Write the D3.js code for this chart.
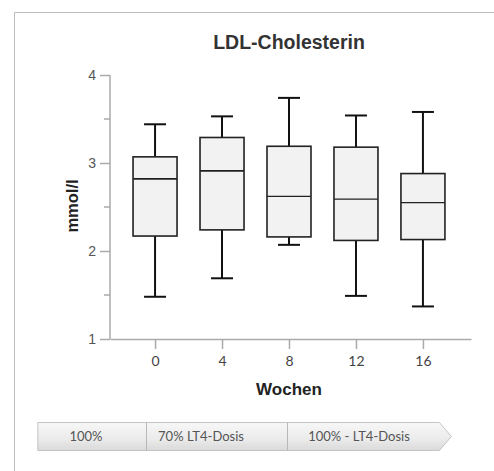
<!DOCTYPE html>
<html>
<head>
<meta charset="utf-8">
<script src="https://cdn.jsdelivr.net/npm/d3@7"></script>
<style>
  body { margin: 0; background: #fff; }
  svg { display: block; }
</style>
</head>
<body>
<svg id="chart" width="494" height="471"></svg>
<script>
// weeks and box stats (mmol/l)
var weeks = [0, 4, 8, 12, 16];
var whiskLow  = [1.48, 1.69, 2.07, 1.49, 1.37];
var q1        = [2.17, 2.24, 2.16, 2.12, 2.13];
var median    = [2.82, 2.91, 2.62, 2.59, 2.55];
var q3        = [3.07, 3.29, 3.19, 3.18, 2.88];
var whiskHigh = [3.44, 3.53, 3.74, 3.54, 3.58];

var yTicks = [1, 2, 3, 4];
var yMinor = [1.5, 2.5, 3.5];

// dosing phases under the chart (in weeks)
var phaseLabels = ["100%", "70% LT4-Dosis", "100% - LT4-Dosis"];
var phaseStart  = [-7.0, -0.55, 7.9];
var phaseEnd    = [-0.55, 7.9, 17.7];

var svg = d3.select('#chart');

var xScale = d3.scaleLinear().domain([-2.69, 18.87]).range([110, 471]);
var yScale = d3.scaleLinear().domain([1, 4]).range([339, 75]);

var boxW = 44, capW = 22;
var axisCol = '#aaa';

// frame
svg.append('path')
  .attr('d', 'M14.5,471 V12.5 H494')
  .attr('fill', 'none').attr('stroke', '#bcbcbc').attr('stroke-width', 1);

svg.append('text')
  .attr('x', 289).attr('y', 49)
  .attr('text-anchor', 'middle')
  .attr('font-family', 'Liberation Sans, Arial, sans-serif')
  .attr('font-weight', 'bold').attr('font-size', '19.5px')
  .attr('fill', '#333')
  .text('LDL-Cholesterin');

// y axis
var yAxis = d3.axisLeft(yScale).tickValues(yTicks).tickSize(10).tickPadding(4).tickFormat(d3.format('d'));
var gy = svg.append('g').attr('transform', 'translate(110,0)').call(yAxis);
gy.select('.domain').attr('stroke', axisCol).attr('stroke-width', 1.5).attr('d', 'M0,' + yScale(4) + 'V' + yScale(1));
gy.selectAll('.tick line').attr('stroke', axisCol).attr('stroke-width', 1.5);
gy.selectAll('.tick text').attr('fill', '#555').attr('font-size', '14px')
  .attr('font-family', 'Liberation Sans, Arial, sans-serif');

svg.append('g').selectAll('line')
  .data(yMinor).enter().append('line')
  .attr('x1', 104).attr('x2', 110)
  .attr('y1', d => yScale(d)).attr('y2', d => yScale(d))
  .attr('stroke', axisCol).attr('stroke-width', 1.5);

// x axis
var xAxis = d3.axisBottom(xScale).tickValues(weeks).tickSize(10).tickPadding(7).tickSizeOuter(0);
var gx = svg.append('g').attr('transform', 'translate(0,' + yScale(1) + ')').call(xAxis);
gx.select('.domain').attr('stroke', axisCol).attr('stroke-width', 1.5);
gx.selectAll('.tick line').attr('stroke', axisCol).attr('stroke-width', 1.5);
gx.selectAll('.tick text').attr('fill', '#444').attr('font-size', '14px')
  .attr('font-family', 'Lato, Carlito, sans-serif');

svg.append('text')
  .attr('x', 289).attr('y', 395)
  .attr('text-anchor', 'middle')
  .attr('font-family', 'Liberation Sans, Arial, sans-serif')
  .attr('font-weight', 'bold').attr('font-size', '17px')
  .attr('fill', '#222')
  .text('Wochen');

svg.append('text')
  .attr('transform', 'translate(78,206) rotate(-90)')
  .attr('text-anchor', 'middle')
  .attr('font-family', 'Liberation Sans, Arial, sans-serif')
  .attr('font-weight', 'bold').attr('font-size', '16.5px')
  .attr('fill', '#222')
  .text('mmol/l');

// boxes
var boxes = svg.append('g').selectAll('g')
  .data(weeks).enter().append('g');

boxes.append('line')
  .attr('x1', d => xScale(d)).attr('x2', d => xScale(d))
  .attr('y1', (d, i) => yScale(whiskHigh[i])).attr('y2', (d, i) => yScale(q3[i]))
  .attr('stroke', '#111').attr('stroke-width', 2);
boxes.append('line')
  .attr('x1', d => xScale(d)).attr('x2', d => xScale(d))
  .attr('y1', (d, i) => yScale(q1[i])).attr('y2', (d, i) => yScale(whiskLow[i]))
  .attr('stroke', '#111').attr('stroke-width', 2);
boxes.append('line')
  .attr('x1', d => xScale(d) - capW / 2).attr('x2', d => xScale(d) + capW / 2)
  .attr('y1', (d, i) => yScale(whiskHigh[i])).attr('y2', (d, i) => yScale(whiskHigh[i]))
  .attr('stroke', '#111').attr('stroke-width', 2);
boxes.append('line')
  .attr('x1', d => xScale(d) - capW / 2).attr('x2', d => xScale(d) + capW / 2)
  .attr('y1', (d, i) => yScale(whiskLow[i])).attr('y2', (d, i) => yScale(whiskLow[i]))
  .attr('stroke', '#111').attr('stroke-width', 2);
boxes.append('rect')
  .attr('x', d => xScale(d) - boxW / 2)
  .attr('y', (d, i) => yScale(q3[i]))
  .attr('width', boxW)
  .attr('height', (d, i) => yScale(q1[i]) - yScale(q3[i]))
  .attr('fill', '#f2f2f2').attr('stroke', '#222').attr('stroke-width', 1.6);
boxes.append('line')
  .attr('x1', d => xScale(d) - boxW / 2).attr('x2', d => xScale(d) + boxW / 2)
  .attr('y1', (d, i) => yScale(median[i])).attr('y2', (d, i) => yScale(median[i]))
  .attr('stroke', '#222').attr('stroke-width', (d, i) => i < 2 ? 1.8 : 1.2);

// phase bar
var defs = svg.append('defs');
var grad = defs.append('linearGradient').attr('id', 'pg')
  .attr('x1', 0).attr('y1', 0).attr('x2', 0).attr('y2', 1);
grad.append('stop').attr('offset', '0%').attr('stop-color', '#f7f7f7');
grad.append('stop').attr('offset', '60%').attr('stop-color', '#ebebeb');
grad.append('stop').attr('offset', '100%').attr('stop-color', '#d9d9d9');

var barTop = 422.5, barBot = 450.5, tipW = 12;
var xa = xScale(phaseStart[0]), xb = xScale(phaseEnd[phaseEnd.length - 1]);
svg.append('path')
  .attr('d', 'M' + xa + ',' + barTop + ' H' + (xb - tipW) + ' L' + xb + ',' + ((barTop + barBot) / 2) +
    ' L' + (xb - tipW) + ',' + barBot + ' H' + xa + ' Z')
  .attr('fill', 'url(#pg)').attr('stroke', '#c4c4c4').attr('stroke-width', 1);

svg.append('g').selectAll('line')
  .data(phaseStart.slice(1)).enter().append('line')
  .attr('x1', d => Math.round(xScale(d)) + 0.5).attr('x2', d => Math.round(xScale(d)) + 0.5)
  .attr('y1', barTop).attr('y2', barBot)
  .attr('stroke', '#b8b8b8');

var labelX = [86, 201, 359];
svg.append('g').selectAll('text')
  .data(phaseLabels).enter().append('text')
  .attr('x', (d, i) => labelX[i]).attr('y', 441)
  .attr('text-anchor', 'middle')
  .attr('font-family', 'Lato, Carlito, sans-serif').attr('font-size', '13px')
  .attr('fill', '#555')
  .text(d => d);
</script>
</body>
</html>
